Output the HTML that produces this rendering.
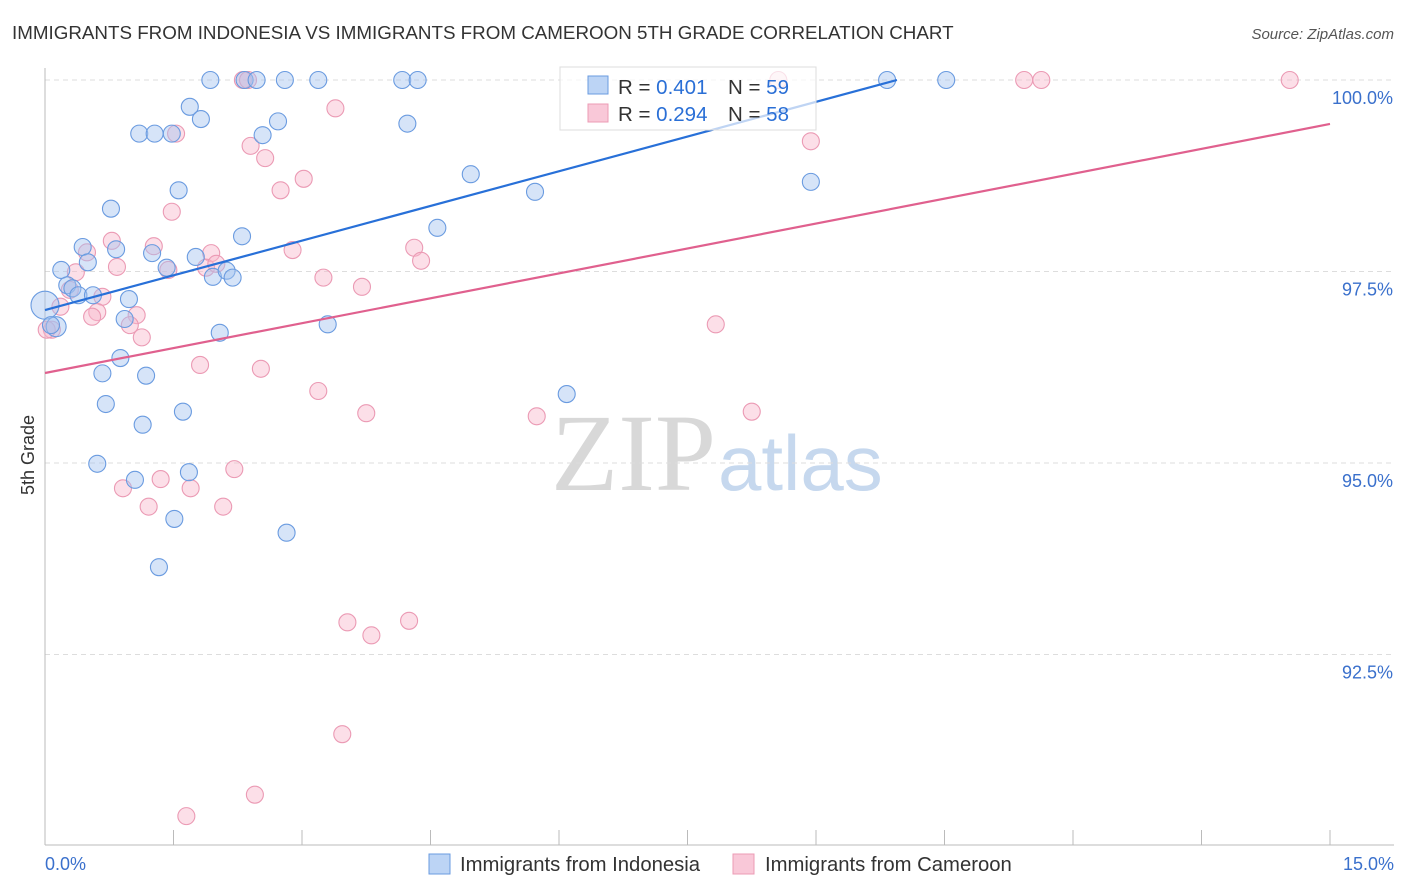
<!DOCTYPE html>
<html><head><meta charset="utf-8"><style>
body{margin:0;background:#fff;font-family:"Liberation Sans",sans-serif}
svg{display:block}
</style></head><body>
<svg id="chart" width="1406" height="892">
<text x="12" y="39" font-size="18.8" fill="#333">IMMIGRANTS FROM INDONESIA VS IMMIGRANTS FROM CAMEROON 5TH GRADE CORRELATION CHART</text>
<text x="1394" y="39" font-size="15" fill="#555" font-style="italic" text-anchor="end">Source: ZipAtlas.com</text>
<text x="716" y="490" font-size="110" fill="#d8d8d8" text-anchor="end" font-family="Liberation Serif">ZIP</text>
<text x="718" y="490" font-size="78" fill="#c6d8ee">atlas</text>
<g id="grid"></g><g id="axes"></g><g id="pts"></g><g id="lines"></g>
<text transform="translate(34,455) rotate(-90)" font-size="18" fill="#333" text-anchor="middle">5th Grade</text>
<g>
<rect x="560" y="67" width="256" height="63" fill="rgba(255,255,255,0.7)" stroke="#ddd"/>
<rect x="588" y="76" width="20" height="18" fill="#bcd4f5" stroke="#6a9be0"/>
<rect x="588" y="104" width="20" height="18" fill="#f9c8d8" stroke="#ec9bb5"/>
<text x="618" y="94" font-size="20.5" fill="#333">R = <tspan fill="#2a6fd6">0.401</tspan></text>
<text x="728" y="94" font-size="20.5" fill="#333">N = <tspan fill="#2a6fd6">59</tspan></text>
<text x="618" y="121" font-size="20.5" fill="#333">R = <tspan fill="#2a6fd6">0.294</tspan></text>
<text x="728" y="121" font-size="20.5" fill="#333">N = <tspan fill="#2a6fd6">58</tspan></text>
</g>
<g>
<rect x="429" y="854" width="21" height="20" fill="#bcd4f5" stroke="#6a9be0"/>
<text x="460" y="871" font-size="20.3" fill="#333">Immigrants from Indonesia</text>
<rect x="733" y="854" width="21" height="20" fill="#f9c8d8" stroke="#ec9bb5"/>
<text x="765" y="871" font-size="20.3" fill="#333">Immigrants from Cameroon</text>
</g>
</svg>
<script>
const blueX=[1.93,2.33,2.47,2.80,3.19,4.17,4.35,9.83,10.52,1.69,1.82,1.10,1.28,1.48,2.54,2.72,4.23,4.97,5.72,8.94,1.56,0.77,4.58,2.30,0.44,0.83,1.25,0.50,0.19,1.42,1.76,1.96,2.12,2.19,0.26,0.32,0.39,0.56,0.98,0.93,0.0,0.13,0.07,3.30,2.04,0.88,0.67,1.18,0.71,1.61,1.14,6.09,0.61,1.68,1.05,1.51,2.82,1.33];
const blueY=[100,100,100,100,100,100,100,100,100,99.65,99.49,99.30,99.30,99.30,99.28,99.46,99.43,98.77,98.54,98.67,98.56,98.32,98.07,97.96,97.82,97.79,97.74,97.62,97.52,97.55,97.69,97.43,97.51,97.42,97.32,97.28,97.19,97.19,97.14,96.88,97.06,96.78,96.80,96.81,96.70,96.37,96.17,96.14,95.77,95.67,95.50,95.90,94.99,94.88,94.78,94.27,94.09,93.64];
const pinkX=[2.31,2.37,8.56,11.43,11.63,14.53,3.39,1.53,2.40,2.57,3.02,2.75,1.48,8.94,0.78,1.27,0.49,1.94,2.89,4.31,4.39,0.36,0.84,1.44,1.88,2.00,3.25,3.70,0.29,0.67,0.18,0.61,0.55,1.07,0.99,1.13,0.08,0.02,7.83,1.81,2.52,3.19,3.75,5.74,8.25,2.21,0.91,1.35,1.70,1.21,2.08,3.53,4.25,3.81,3.47,2.45,1.65];
const pinkY=[100,100,100,100,100,100,99.63,99.30,99.14,98.98,98.71,98.56,98.28,99.20,97.90,97.83,97.75,97.74,97.78,97.81,97.64,97.49,97.56,97.52,97.55,97.60,97.42,97.30,97.26,97.17,97.04,96.97,96.91,96.93,96.80,96.64,96.74,96.74,96.81,96.28,96.23,95.94,95.65,95.61,95.67,94.92,94.67,94.79,94.67,94.43,94.43,92.92,92.94,92.75,91.46,90.67,90.39];
const blueSizes=[];blueSizes[40]=14;blueSizes[41]=10;
const yTicks=[100,97.5,95,92.5];
const yTickLabels=["100.0%","97.5%","95.0%","92.5%"];
const xTicks=[0,1.5,3,4.5,6,7.5,9,10.5,12,13.5,15];
const blueTrend=[0,96.997,9.945,100];
const pinkTrend=[0,96.175,15,99.426];
const NS="http://www.w3.org/2000/svg";
const sx=v=>45+v/15*1285, sy=v=>80+(100-v)/2.5*191.5;
function mk(t,a,p){const e=document.createElementNS(NS,t);for(const k in a)e.setAttribute(k,a[k]);p.appendChild(e);return e;}
const G=document.getElementById('grid'),A=document.getElementById('axes'),P=document.getElementById('pts'),L=document.getElementById('lines');
yTicks.forEach((t,i)=>{
 const l=mk('line',{x1:45,x2:1394,y1:sy(t),y2:sy(t),stroke:'#ddd','stroke-dasharray':'5,4'},G);
 
 
 const tx=mk('text',{x:1393,y:sy(t)+24,'font-size':18,fill:'#3a70cc','text-anchor':'end'},A);
 tx.textContent=yTickLabels[i];
 
 
});
const ax=mk('line',{x1:45,x2:1394,y1:845,y2:845,stroke:'#bbb'},A);


const ay=mk('line',{x1:45,x2:45,y1:68,y2:845,stroke:'#bbb'},A);


xTicks.forEach(t=>{const l=mk('line',{x1:sx(t),x2:sx(t),y1:830,y2:845,stroke:'#bbb'},A);
 
 });
const x0=mk('text',{x:45,y:870,'font-size':18,fill:'#3a70cc'},A);x0.textContent='0.0%';


const x1=mk('text',{x:1394,y:870,'font-size':18,fill:'#3a70cc','text-anchor':'end'},A);x1.textContent='15.0%';


pinkX.forEach((x,i)=>{const c=mk('circle',{cx:sx(x),cy:sy(pinkY[i]),r:8.5,fill:'rgba(248,184,204,0.45)',stroke:'#eb9ab4','stroke-width':1.1},P);
 
 });
blueX.forEach((x,i)=>{const c=mk('circle',{cx:sx(x),cy:sy(blueY[i]),r:blueSizes[i]||8.5,fill:'rgba(164,196,240,0.45)',stroke:'#6a9be0','stroke-width':1.1},P);
 
 });
const bl=mk('line',{x1:sx(blueTrend[0]),y1:sy(blueTrend[1]),x2:sx(blueTrend[2]),y2:sy(blueTrend[3]),stroke:'#2870d8','stroke-width':2.2},L);


const pl=mk('line',{x1:sx(pinkTrend[0]),y1:sy(pinkTrend[1]),x2:sx(pinkTrend[2]),y2:sy(pinkTrend[3]),stroke:'#e0608e','stroke-width':2.2},L);


</script>
</body></html>
